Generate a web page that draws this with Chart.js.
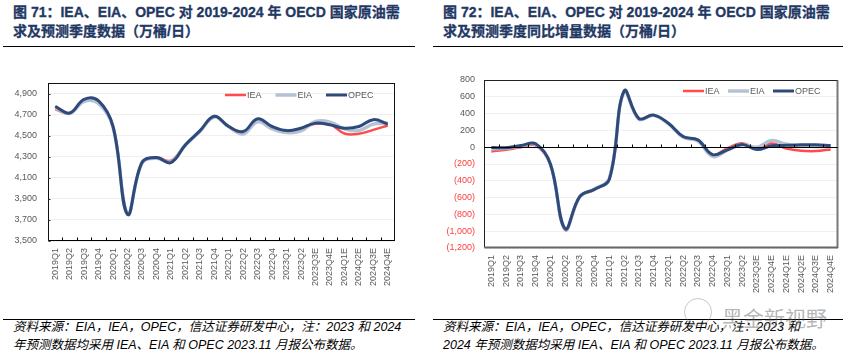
<!DOCTYPE html>
<html><head><meta charset="utf-8">
<script src="https://cdn.jsdelivr.net/npm/chart.js@4"></script>
<style>
body{margin:0;width:853px;height:357px;background:#fff;position:relative;overflow:hidden;font-family:"Liberation Sans","Noto Sans CJK SC",sans-serif;}
.title{position:absolute;top:2.5px;font-weight:bold;font-size:14px;line-height:19px;color:#1F3864;white-space:nowrap;-webkit-text-stroke:0.3px #1F3864;}
.rule{position:absolute;height:0;border-top:1.5px solid #000;}
.note{position:absolute;top:319px;font-style:italic;font-size:12.5px;line-height:17.5px;color:#000;white-space:nowrap;}
.wm{position:absolute;left:722px;top:302px;font-size:21px;color:rgba(90,90,90,0.45);white-space:nowrap;font-family:"Noto Sans CJK SC",sans-serif;}
.wmi{position:absolute;left:684px;top:298px;width:26px;height:26px;border:1.5px solid rgba(120,120,120,0.4);border-radius:50%;}
canvas{position:absolute;}
</style></head>
<body>
<div class="title" style="left:13px">图 71：IEA、EIA、OPEC 对 2019-2024 年 OECD 国家原油需<br>求及预测季度数据（万桶/日）</div>
<div class="title" style="left:443px">图 72：IEA、EIA、OPEC 对 2019-2024 年 OECD 国家原油需<br>求及预测季度同比增量数据（万桶/日）</div>
<div class="rule" style="left:3px;width:412px;top:45.5px"></div>
<div class="rule" style="left:433px;width:410px;top:45.5px"></div>
<div class="rule" style="left:3px;width:412px;top:318.5px"></div>
<div class="rule" style="left:433px;width:410px;top:318.5px"></div>
<div class="note" style="left:13px">资料来源：EIA，IEA，OPEC，信达证券研发中心，注：2023 和 2024<br>年预测数据均采用 IEA、EIA 和 OPEC 2023.11 月报公布数据。</div>
<div class="note" style="left:443px">资料来源：EIA，IEA，OPEC，信达证券研发中心，注：2023 和<br>2024 年预测数据均采用 IEA、EIA 和 OPEC 2023.11 月报公布数据。</div>
<div class="wmi"></div>
<div class="wm">黑金新视野</div>
<canvas id="c1" width="420" height="260" style="left:0;top:50px"></canvas>
<canvas id="c2" width="426" height="260" style="left:427px;top:50px"></canvas>
<script>
// ---- data ----
const categories = ['2019Q1','2019Q2','2019Q3','2019Q4','2020Q1','2020Q2','2020Q3','2020Q4',
  '2021Q1','2021Q2','2021Q3','2021Q4','2022Q1','2022Q2','2022Q3','2022Q4','2023Q1','2023Q2',
  '2023Q3E','2023Q4E','2024Q1E','2024Q2E','2024Q3E','2024Q4E'];
const seriesNames = ['IEA','EIA','OPEC'];
// demand level (万桶/日)
const demandIEA  = [4750,4712,4832,4815,4590,3755,4240,4292,4262,4415,4540,4680,4590,4537,4642,4577,4545,4568,4613,4608,4520,4518,4555,4597];
const demandEIA  = [4765,4712,4825,4805,4580,3755,4240,4286,4250,4412,4540,4678,4585,4516,4633,4565,4529,4545,4635,4629,4566,4548,4610,4619];
const demandOPEC = [4778,4715,4845,4830,4585,3753,4245,4292,4244,4412,4545,4684,4587,4539,4661,4587,4548,4571,4619,4603,4571,4587,4652,4610];
// year-on-year change (万桶/日)
const yoyIEA  = [-50,-30,0,20,-210,-985,-590,-505,-375,665,338,376,282,125,80,-92,-12,48,-12,48,-15,-42,-46,-26];
const yoyEIA  = [-20,-12,15,35,-200,-975,-590,-498,-372,660,335,380,280,120,75,-110,-35,32,0,79,35,16,8,8];
const yoyOPEC = [-5,-6,20,40,-200,-970,-586,-500,-380,670,342,382,285,127,87,-88,-32,32,-28,16,22,28,28,20];
// axis ranges and tick labels
const demandRange = [3500, 5000];
const demandTicks = [3500, 3700, 3900, 4100, 4300, 4500, 4700, 4900];
const yoyRange = [-1200, 800];
const yoyTicks = [-1200, -1000, -800, -600, -400, -200, 0, 200, 400, 600, 800];
const colors = {IEA:'#FF4B4B', EIA:'#B5C2D4', OPEC:'#2E4A7B'};
const widths = {IEA:2.5, EIA:3.5, OPEC:3};
const order = {IEA:3, EIA:2, OPEC:1};

const decor = {
  id:'decor',
  afterDraw(chart, args, o){
    const {ctx, chartArea:a} = chart;
    const x = chart.scales.x, y = chart.scales.y;
    ctx.save();
    const line=(x1,y1,x2,y2,c,w)=>{ctx.beginPath();ctx.strokeStyle=c;ctx.lineWidth=w;ctx.moveTo(x1,y1);ctx.lineTo(x2,y2);ctx.stroke();};
    const L=Math.round(a.left)+0.5, R=Math.round(a.right)-0.5, T=Math.round(a.top)+0.5, B=Math.round(a.bottom)-0.5;
    line(L-0.5,T,R+0.5,T,o.top[0],o.top[1]);
    line(L,T,L,B,o.left[0],o.left[1]);
    line(R,T,R,B+0.5,o.right[0],o.right[1]);
    line(L,B,R+0.5,B,o.bottom[0],o.bottom[1]);
    const ay = o.axisValue==null ? B : Math.round(y.getPixelForValue(o.axisValue))+0.5;
    line(L,ay,R,ay,'#000',1);
    const n = chart.data.labels.length;
    for(let i=1;i<n;i++){
      const px=Math.round(x.getPixelForValue(i-0.5))+0.5;
      line(px,ay,px,ay-o.tickLen,'#000',1);
    }
    if(o.yTickLen){
      y.ticks.forEach(t=>{const py=Math.round(y.getPixelForValue(t.value))+0.5; line(L,py,L+o.yTickLen,py,'#333',1);});
    }
    // legend
    ctx.font='9px "Liberation Sans", Arial, sans-serif';
    ctx.textBaseline='middle';
    ctx.fillStyle='#595959';
    const ly = a.top + o.legY;
    chart.data.datasets.forEach((d,i)=>{
      const sx = a.right + o.legX + i*o.legPitch;
      ctx.lineCap='butt';
      line(sx, ly, sx+o.legLine, ly, d.borderColor, d.borderWidth);
      ctx.fillText(d.label, sx+o.legLine+1, ly+0.5);
    });
    ctx.restore();
  }
};

function makeChart(id, values, range, tickVals, opt){
  const datasets = seriesNames.map((s,i)=>({
    label:s, data:values[i], borderColor:colors[s], backgroundColor:colors[s],
    borderWidth:widths[s], pointRadius:0, tension:0.4, order:order[s], fill:false
  }));
  return new Chart(document.getElementById(id),{
    type:'line',
    data:{labels:categories, datasets},
    plugins:[decor],
    options:{
      responsive:false, animation:false, devicePixelRatio:1,
      layout:{padding:opt.padding},
      plugins:{legend:{display:false}, tooltip:{enabled:false}, decor:opt.decor},
      scales:{
        x:{type:'category', offset:true,
          grid:{display:false, drawTicks:false}, border:{display:false},
          ticks:{autoSkip:false, minRotation:90, maxRotation:90, padding:opt.xPad,
            font:{size:9, family:'"Liberation Sans", Arial, sans-serif'}, color:'#595959'},
          afterFit:s=>{s.height=opt.xH;}
        },
        y:{min:range[0], max:range[1],
          grid:{color:'#F0F0F0', drawTicks:false}, border:{display:false},
          afterBuildTicks:s=>{s.ticks = tickVals.map(v=>({value:v}));},
          ticks:{padding:opt.yPad,
            font:{size:9, family:'"Liberation Sans", Arial, sans-serif'},
            color:c=>c.tick && c.tick.value<0 ? '#FF3B3B' : '#595959',
            callback:v=> v<0 ? '('+Math.abs(v).toLocaleString('en-US')+')' : v.toLocaleString('en-US')},
          afterFit:s=>{s.width=opt.yW;}
        }
      }
    }
  });
}

makeChart('c1',[demandIEA,demandEIA,demandOPEC],demandRange,demandTicks,{
  padding:{top:33,right:25,left:0,bottom:0}, xH:69, yW:48, xPad:7, yPad:11,
  decor:{top:['#111',1],left:['#111',1],right:['#111',1],bottom:['#111',1],axisValue:null,tickLen:3,yTickLen:2,
    legX:-170, legY:12, legPitch:50.5, legLine:21}
});
makeChart('c2',[yoyIEA,yoyEIA,yoyOPEC],yoyRange,yoyTicks,{
  padding:{top:30,right:15,left:0,bottom:0}, xH:62, yW:57, xPad:7, yPad:9,
  decor:{top:['#222',1],left:['#222',1],right:['#777',2],bottom:['#666',2],axisValue:0,tickLen:3,yTickLen:0,
    legX:-155, legY:11, legPitch:45, legLine:21}
});
</script>
</body></html>
